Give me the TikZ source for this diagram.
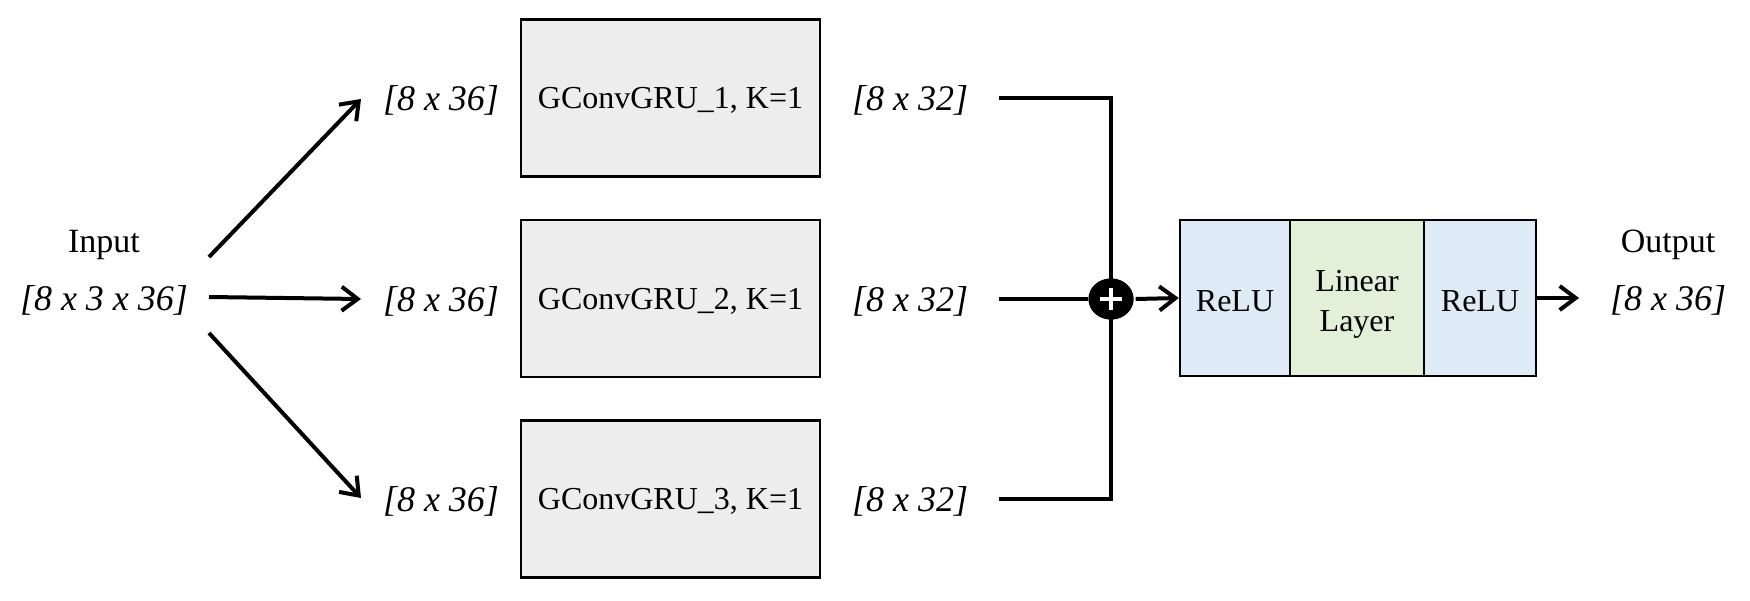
\documentclass[tikz,border=0pt]{standalone}
\usepackage{fontspec}
\setmainfont{Liberation Serif}
\usetikzlibrary{arrows.meta,shapes.geometric}
\definecolor{boxgray}{HTML}{EDEDED}
\definecolor{relublue}{HTML}{DEEAF6}
\definecolor{lingreen}{HTML}{E2EFD9}
\tikzset{
  gru/.style={draw=black, line width=2.5pt, fill=boxgray, minimum width=299pt, minimum height=157pt, inner sep=0pt, font=\fontsize{32}{38}\selectfont},
  blk/.style={draw=black, line width=2.5pt, minimum height=156pt, inner sep=0pt, font=\fontsize{32}{40}\selectfont, align=center},
  dimlab/.style={font=\fontsize{36}{40}\selectfont\itshape, inner sep=0pt},
  plainlab/.style={font=\fontsize{34}{38}\selectfont, inner sep=0pt},
  conn/.style={line width=4pt},
  arr/.style={line width=4pt, -{Straight Barb[length=16pt, width=24pt, line width=4pt]}},
  sumnode/.style={ellipse, fill=black, minimum width=45pt, minimum height=41pt, inner sep=0pt},
}
\begin{document}
\begin{tikzpicture}[x=1pt, y=-1pt]
\useasboundingbox (0,0) rectangle (1750,600);
% input
\node[plainlab] (inlab) at (104,245) {Input};
\node[dimlab] (indim) at (104,300) {[8 x 3 x 36]};
\coordinate (s1) at (209,257);
\coordinate (s2) at (209,297);
\coordinate (s3) at (209,333);
\coordinate (t1) at (361,99);
\coordinate (t2) at (361,299);
\coordinate (t3) at (361,498);
% input dims
\node[dimlab] (d1) at (441,100) {[8 x 36]};
\node[dimlab] (d2) at (441,301) {[8 x 36]};
\node[dimlab] (d3) at (441,501) {[8 x 36]};
% boxes
\node[gru] (g1) at (670.5,98) {};
\node[gru] (g2) at (670.5,298.5) {};
\node[gru] (g3) at (670.5,499) {};
\node[gru, draw=none, fill=none] at (670.5,100.5) {GConvGRU\_1, K=1};
\node[gru, draw=none, fill=none] at (670.5,301) {GConvGRU\_2, K=1};
\node[gru, draw=none, fill=none] at (670.5,501.5) {GConvGRU\_3, K=1};
% output dims
\node[dimlab] (o1) at (910,100) {[8 x 32]};
\node[dimlab] (o2) at (910,301) {[8 x 32]};
\node[dimlab] (o3) at (910,501) {[8 x 32]};
% arrows from input
\draw[arr] (s1) -- (t1);
\draw[arr] (s2) -- (t2);
\draw[arr] (s3) -- (t3);
% merge
\node[sumnode] (sum) at (1111,299) {};
\coordinate (h1) at (999,98);
\coordinate (h2) at (999,299);
\coordinate (h3) at (999,499);
\draw[conn] (h1) -- (1111,98) -- (1111,499) -- (h3);
\draw[conn] (h2) -- (sum);
\node[sumnode] at (sum) {};
\draw[white, line width=4pt] ([xshift=-11pt]sum.center) -- ([xshift=11pt]sum.center);
\draw[white, line width=4pt] ([yshift=-11pt]sum.center) -- ([yshift=11pt]sum.center);
% right block
\node[blk, fill=relublue, minimum width=110pt] (r1) at (1235,298) {};
\node[blk, fill=lingreen, minimum width=134pt] (lin) at (1357,298) {};
\node[blk, fill=relublue, minimum width=112pt] (r2) at (1480,298) {};
\node[blk, draw=none, fill=none] at (1235,301) {ReLU};
\node[blk, draw=none, fill=none] at (1357,304) {Linear\\Layer};
\node[blk, draw=none, fill=none] at (1480,301) {ReLU};
\draw[arr] ([xshift=2pt]sum.east) -- (r1.west);
\coordinate (oa) at (1579,298);
\draw[arr] (r2.east) -- (oa);
% output
\node[plainlab] (outlab) at (1668,245) {Output};
\node[dimlab] (outdim) at (1668,300) {[8 x 36]};
\end{tikzpicture}
\end{document}
